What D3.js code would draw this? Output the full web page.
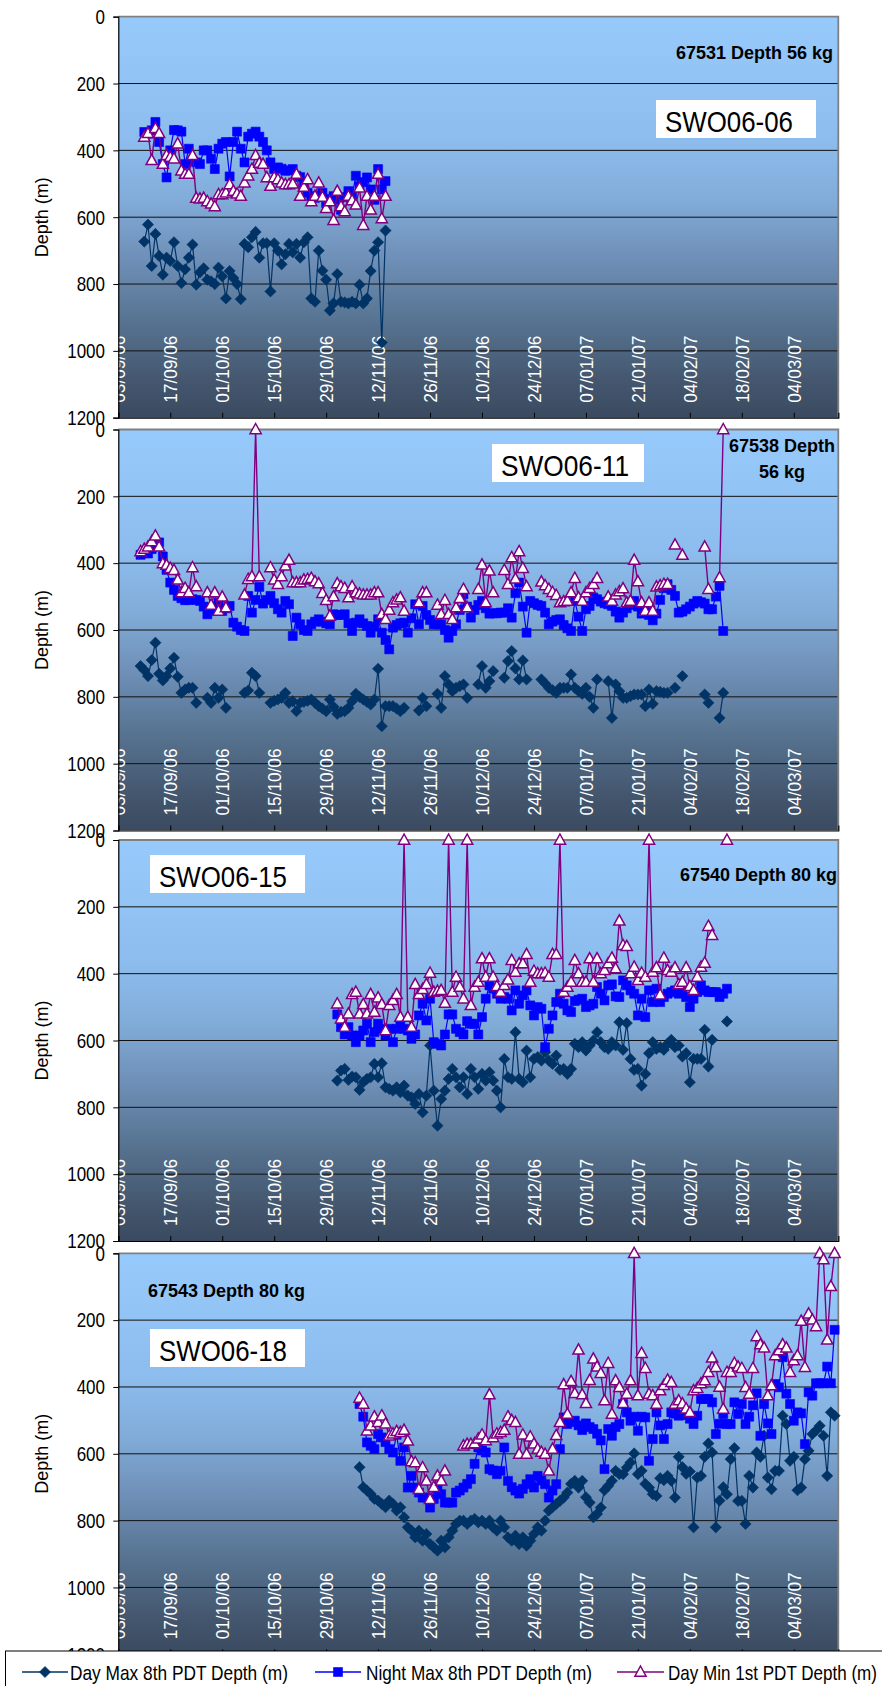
<!DOCTYPE html>
<html>
<head>
<meta charset="utf-8">
<script src="https://cdn.jsdelivr.net/npm/d3@7"></script>
<style>
  body { margin: 0; background: #ffffff; }
  svg { display: block; font-family: "Liberation Sans", Arial, sans-serif; }
</style>
</head>
<body>
<svg id="chart" width="882" height="1686"></svg>
<script>
// ---------- axis labels ----------
const tickLabels = ["03/09/06","17/09/06","01/10/06","15/10/06","29/10/06","12/11/06","26/11/06",
  "10/12/06","24/12/06","07/01/07","21/01/07","04/02/07","18/02/07","04/03/07"];
const depthTicks = [0, 200, 400, 600, 800, 1000, 1200];
const seriesNames = ["Day Max 8th PDT Depth (m)", "Night Max 8th PDT Depth (m)", "Day Min 1st PDT Depth (m)"];

// ---------- tag 67531 (SWO06-06): daily values from 10/09/06 ----------
const p1Start = "10/09/06";
const p1DayMax = [673,622,746,650,716,772,721,731,675,746, 797,756,721,682,802,765,753,787,792,800,
  751,777,843,761,782,800,845,680,690,660, 644,721,678,678,822,678,700,741,711,680,
  705,680,721,675,660,843,853,700,760,787, 879,858,770,853,855,858,853,858,802,858,
  843,761,700,675,975,640];
const p1NightMax = [345,350,340,315,375,441,481,400,339,340, 344,441,395,431,436,441,400,400,425,456,
  395,380,375,478,375,344,395,436,359,350, 344,359,375,400,436,456,451,455,461,460,
  456,476,480,507,527,537,542,535,527,558, 545,537,548,578,540,522,537,476,507,495,
  481,517,548,456,517,492];
const p1DayMin = [360,349,430,334,349,441,415,420,425,380, 461,471,471,415,543,545,543,553,560,568,
  532,532,527,502,522,530,537,497,476,456, 415,438,441,481,507,481,487,497,502,502,
  500,471,537,510,487,553,537,497,540,573, 553,609,522,568,583,537,550,563,512,624,
  537,578,537,471,604,537];

// ---------- tag 67538 (SWO06-11): daily values from 09/09/06 ----------
const p2Start = "09/09/06";
const p2DayMax = [708,720,738,690,638,731,751,738,715,683, 740,788,778,773,773,818,null,null,803,818,
  773,803,778,833,null,null,null,null,788,781, 728,738,788,null,null,818,812,808,803,788,
  818,813,843,818,815,812,808,818,828,835, 843,808,830,851,845,843,833,813,791,800,
  808,815,823,808,716,888,828,828,828,835, 843,833,null,null,null,841,803,828,null,null,
  791,833,738,763,783,773,768,763,803,null, null,763,708,773,753,723,null,null,743,693,
  663,715,748,691,748,null,null,null,748,760, 773,780,788,773,773,773,733,773,783,791,
  773,800,833,748,null,null,753,863,763,783, 803,803,798,793,793,793,828,778,821,783,
  785,788,788,null,773,null,738,null,null,null, null,null,793,818,null,null,863,788];
const p2NightMax = [375,370,371,358,350,338,380,420,458,480, 498,505,511,510,508,510,513,530,553,540,
  528,518,543,535,528,578,590,600,603,498, 548,510,471,521,510,498,520,538,548,513,
  523,618,563,583,600,603,583,575,568,575, 580,583,553,555,555,553,580,603,578,568,
  580,588,608,590,568,608,630,658,593,585, 580,578,608,565,523,583,528,555,570,583,
  583,583,600,623,603,583,540,493,530,563, 540,525,513,535,551,550,550,548,548,535,
  563,490,458,530,608,513,520,525,528,548, 583,575,570,568,585,595,603,513,560,603,
  538,528,503,508,515,520,523,528,545,563, 548,535,525,513,530,551,538,555,571,551,
  510,475,463,480,498,548,545,538,530,521, 513,517,521,538,538,500,468,603];
const p2DayMin = [365,358,351,335,318,351,401,406,415,421, 450,488,475,488,413,470,null,null,488,525,
  488,543,501,533,null,null,null,null,495,448, 440,0,440,null,null,413,450,463,440,408,
  391,458,458,458,450,448,445,455,461,490, 511,558,500,461,470,475,503,470,488,492,
  495,495,495,488,488,553,568,540,518,510, 503,543,null,null,null,518,488,488,null,null,
  525,553,511,553,568,533,505,478,533,null, null,478,405,518,423,488,null,null,421,463,
  383,447,365,415,470,null,null,null,456,467, 478,487,496,518,515,513,488,445,503,513,
  488,475,463,445,null,null,501,513,495,485, 476,518,513,391,455,518,543,518,543,471,
  467,463,463,null,345,null,376,null,null,null, null,null,351,478,null,null,443,0];

// ---------- tag 67540 (SWO06-15): daily values from 01/11/06 ----------
const p3Start = "01/11/06";
const p3DayMax = [720,690,685,718,708,710,748,725,715,710, 670,710,668,740,745,750,740,755,735,765,
  770,790,760,815,765,615,750,855,775,750, 715,685,710,740,710,760,685,710,745,700,
  720,695,720,750,800,655,710,715,575,715, 725,630,710,655,650,660,635,660,670,645,
  688,685,700,685,610,620,605,630,615,600, 575,605,620,625,605,615,545,628,548,655,
  688,685,735,700,638,605,625,620,628,610, 598,620,615,648,638,725,655,655,655,568,
  678,598,null,null,null,543];
const p3NightMax = [522,560,582,560,585,605,585,570,550,605, 575,550,565,585,565,605,565,558,565,570,
  595,582,525,490,540,475,605,610,615,582, 522,522,565,575,582,542,550,550,582,530,
  475,435,445,460,475,470,475,510,450,490, 465,450,495,525,500,505,620,565,525,485,
  460,490,510,515,482,478,475,500,495,490, 440,460,480,435,432,468,470,420,435,450,
  460,525,475,530,450,485,445,485,470,460, 455,450,460,445,470,500,475,455,435,450,
  455,455,455,470,460,445];
const p3DayMin = [490,535,560,520,462,455,520,492,520,462, 515,472,492,570,495,480,462,530,0,530,
  560,432,462,447,432,398,455,452,450,488, 0,455,410,440,475,0,495,440,425,355,
  410,355,410,438,455,435,418,360,395,370, 370,342,425,392,400,400,398,410,342,342,
  0,455,440,425,360,400,425,425,355,425, 355,400,390,370,353,385,242,315,318,400,
  380,420,398,410,0,395,382,463,353,390, 395,382,432,425,382,438,450,410,380,368,
  258,285,null,null,null,0];

// ---------- tag 67543 (SWO06-18): daily values from 07/11/06 ----------
const p4Start = "07/11/06";
const p4DayMax = [640,700,710,720,735,740,750,760,740,750, 770,760,790,820,830,850,830,860,840,870,
  880,890,860,880,850,830,810,800,800,810, 800,795,805,800,810,800,820,830,800,820,
  850,860,845,870,850,875,860,840,820,830, 800,770,760,750,741,731,716,690,681,701,
  681,730,746,790,780,761,709,696,681,651, 661,661,641,626,599,661,651,690,701,721,
  726,673,679,666,681,731,609,640,660,653, 820,671,666,609,569,596,820,740,700,721,
  616,583,741,741,810,666,701,596,609,546, 671,706,651,651,486,511,621,609,709,701,
  616,591,541,530,516,546,666,476,486];
const p4NightMax = [451,489,566,576,586,541,551,565,586,596, 543,621,581,701,666,701,716,731,731,761,
  735,706,721,746,746,746,716,710,701,690, 676,630,581,590,596,646,650,661,651,581,
  681,700,710,719,705,691,676,701,666,680, 691,731,710,691,586,491,511,505,501,515,
  529,509,520,526,540,560,646,526,546,520, 511,451,476,501,489,531,489,491,621,556,
  476,515,556,511,476,480,486,484,481,495, 511,486,436,436,436,446,541,510,481,511,
  511,446,481,451,511,489,455,419,546,451, 509,541,391,401,311,420,451,501,476,479,
  571,416,426,389,389,389,339,389,229];
const p4DayMin = [433,451,531,516,489,506,486,510,546,540, 533,536,529,561,623,626,706,641,681,736,
  700,666,681,651,null,null,null,null,576,571, 571,569,555,543,560,423,551,540,536,529,
  489,500,506,601,543,601,549,570,586,595, 601,651,586,545,506,393,481,383,419,289,
  423,449,380,316,340,359,441,329,481,381, 401,449,421,381,0,426,299,344,421,426,
  451,411,395,379,386,451,441,450,465,476, 411,404,390,381,356,313,341,400,466,356,
  356,329,340,344,401,421,344,249,273,283, 426,396,306,291,273,283,356,321,306,203,
  341,181,199,219,0,19,259,99,0];

// ---------- layout ----------
const W = 882, H = 1686;
const plotLeft = 118.3, plotRight = 838.3, plotH = 401;
const parseDate = d3.utcParse("%d/%m/%y");

const panels = [
  { top: 16.7, start: p1Start, series: [p1DayMax, p1NightMax, p1DayMin], name: "SWO06-06",
    box: [656, 100, 160], tag: ["67531 Depth 56 kg"], tagPos: [833, 59], tagAnchor: "end" },
  { top: 429.5, start: p2Start, series: [p2DayMax, p2NightMax, p2DayMin], name: "SWO06-11",
    box: [492, 444, 152], tag: ["67538 Depth", "56 kg"], tagPos: [782, 452], tagAnchor: "middle" },
  { top: 840, start: p3Start, series: [p3DayMax, p3NightMax, p3DayMin], name: "SWO06-15",
    box: [150, 855, 155], tag: ["67540 Depth 80 kg"], tagPos: [837, 881], tagAnchor: "end" },
  { top: 1253.3, start: p4Start, series: [p4DayMax, p4NightMax, p4DayMin], name: "SWO06-18",
    box: [150, 1329, 155], tag: ["67543 Depth 80 kg"], tagPos: [148, 1297], tagAnchor: "start" }
];

const x = d3.scaleUtc()
  .domain([parseDate("03/09/06"), d3.utcDay.offset(parseDate("03/09/06"), 194)])
  .range([plotLeft, plotRight]);
const tickDates = tickLabels.map(parseDate);

// marker shapes and styles for the three series
const styles = [
  { color: "#003366", width: 1.2, shape: "M0,-5.6L5.6,0L0,5.6L-5.6,0Z", fill: "#003366", stroke: "#003366", sw: 0.6 },
  { color: "#0000FF", width: 1.2, shape: "M-4.5,-4.5H4.5V4.5H-4.5Z", fill: "#0000FF", stroke: "#0000FF", sw: 0.6 },
  { color: "#800080", width: 1.4, shape: "M0,-6L5.6,4.2L-5.6,4.2Z", fill: "#FFFFFF", stroke: "#800080", sw: 1.5 }
];

const svg = d3.select("#chart");
const defs = svg.append("defs");
const grad = defs.append("linearGradient").attr("id", "bg")
  .attr("x1", 0).attr("y1", 0).attr("x2", 0).attr("y2", 1);
[[0, "#97CAFC"], [0.3, "#8DBDEE"], [0.45, "#82ADDA"], [0.6, "#6F90B8"],
 [0.75, "#587593"], [0.9, "#455870"], [1, "#3A4A60"]]
  .forEach(([o, c]) => grad.append("stop").attr("offset", o).attr("stop-color", c));

svg.append("rect").attr("width", W).attr("height", H).attr("fill", "#ffffff");

panels.forEach((p, pi) => {
  const y = d3.scaleLinear().domain([0, 1200]).range([p.top, p.top + plotH]);
  const g = svg.append("g");
  const clipId = "clip" + pi;
  defs.append("clipPath").attr("id", clipId).append("rect")
    .attr("x", plotLeft).attr("y", p.top).attr("width", plotRight - plotLeft).attr("height", plotH);

  // plot background
  g.append("rect").attr("x", plotLeft).attr("y", p.top)
    .attr("width", plotRight - plotLeft).attr("height", plotH).attr("fill", "url(#bg)");

  // horizontal gridlines
  g.append("g").selectAll("line").data(depthTicks.slice(1, -1)).join("line")
    .attr("x1", plotLeft).attr("x2", plotRight)
    .attr("y1", d => y(d)).attr("y2", d => y(d))
    .attr("stroke", "#111111").attr("stroke-width", 1);

  // plot border (top and right)
  g.append("path")
    .attr("d", `M${plotLeft},${p.top}H${plotRight}V${p.top + plotH}`)
    .attr("fill", "none").attr("stroke", "#808080").attr("stroke-width", 1.8);

  // date labels, written upward inside the plot
  const xl = g.append("g").attr("clip-path", `url(#${clipId})`);
  xl.selectAll("text").data(tickDates).join("text")
    .attr("transform", d => `translate(${x(d) + 7},${p.top + plotH - 15}) rotate(-90)`)
    .attr("x", 0).attr("y", 0)
    .attr("text-anchor", "start")
    .attr("font-size", 18).attr("fill", "#ffffff")
    .attr("textLength", 67).attr("lengthAdjust", "spacingAndGlyphs")
    .text((d, i) => tickLabels[i]);

  // bottom axis with inward ticks
  const xAxis = d3.axisBottom(x).tickValues(tickDates).tickSize(-5).tickFormat("");
  g.append("g").attr("transform", `translate(0,${p.top + plotH})`).call(xAxis)
    .call(a => a.select(".domain").attr("stroke", "#000").attr("stroke-width", 1.2))
    .call(a => a.selectAll(".tick line").attr("stroke", "#000"));

  // depth axis
  const yAxis = d3.axisLeft(y).tickValues(depthTicks).tickSize(5).tickFormat(d3.format("d"));
  const ya = g.append("g").attr("transform", `translate(${plotLeft},0)`).call(yAxis);
  ya.select(".domain").attr("stroke", "#000").attr("stroke-width", 1.2);
  ya.selectAll(".tick line").attr("stroke", "#000");
  ya.selectAll(".tick text")
    .attr("font-size", 20).attr("fill", "#000").attr("font-family", "Liberation Sans, Arial, sans-serif")
    .attr("x", -13.3 / 0.85).attr("dy", "0.34em")
    .attr("transform", "scale(0.85,1)");

  g.append("text")
    .attr("transform", `translate(48,${p.top + plotH / 2}) rotate(-90)`)
    .attr("text-anchor", "middle").attr("font-size", 18).attr("fill", "#000")
    .text("Depth (m)");

  // series: Day Max, Night Max, Day Min
  const start = parseDate(p.start);
  p.series.forEach((vals, si) => {
    const st = styles[si];
    const data = vals.map((v, i) => ({ date: d3.utcDay.offset(start, i), v }));
    const line = d3.line().defined(d => d.v != null).x(d => x(d.date)).y(d => y(d.v));
    g.append("path").datum(data).attr("d", line)
      .attr("fill", "none").attr("stroke", st.color).attr("stroke-width", st.width)
      .attr("stroke-linejoin", "round");
    g.append("g").selectAll("path").data(data.filter(d => d.v != null)).join("path")
      .attr("transform", d => `translate(${x(d.date)},${y(d.v)})`)
      .attr("d", st.shape).attr("fill", st.fill)
      .attr("stroke", st.stroke).attr("stroke-width", st.sw).attr("stroke-linejoin", "miter");
  });

  // tag name box
  g.append("rect").attr("x", p.box[0]).attr("y", p.box[1]).attr("width", p.box[2]).attr("height", 38)
    .attr("fill", "#ffffff");
  g.append("text")
    .attr("x", p.box[0] + 9).attr("y", p.box[1] + 32)
    .attr("font-size", 30).attr("fill", "#000")
    .attr("textLength", 128).attr("lengthAdjust", "spacingAndGlyphs")
    .text(p.name);

  // tag / depth / weight note
  p.tag.forEach((t, ti) => {
    g.append("text")
      .attr("x", p.tagPos[0]).attr("y", p.tagPos[1] + ti * 26)
      .attr("text-anchor", p.tagAnchor)
      .attr("font-size", 18).attr("font-weight", "bold").attr("fill", "#000")
      .text(t);
  });
});

// ---------- legend ----------
const lg = svg.append("g");
lg.append("rect").attr("x", 5.5).attr("y", 1651).attr("width", 900).attr("height", 60)
  .attr("fill", "#ffffff").attr("stroke", "#000").attr("stroke-width", 1);
const legendItems = [
  { x0: 22, x1: 68, tx: 70, tw: 218 },
  { x0: 315, x1: 361, tx: 366, tw: 226 },
  { x0: 617, x1: 664, tx: 668, tw: 209 }
];
legendItems.forEach((it, i) => {
  const st = styles[i];
  const ly = 1672;
  lg.append("line").attr("x1", it.x0).attr("x2", it.x1).attr("y1", ly).attr("y2", ly)
    .attr("stroke", st.color).attr("stroke-width", st.width + 0.3);
  lg.append("path").attr("transform", `translate(${(it.x0 + it.x1) / 2},${ly})`)
    .attr("d", st.shape).attr("fill", st.fill).attr("stroke", st.stroke).attr("stroke-width", st.sw);
  lg.append("text").attr("x", it.tx).attr("y", ly + 7.5)
    .attr("font-size", 21).attr("fill", "#000")
    .attr("textLength", it.tw).attr("lengthAdjust", "spacingAndGlyphs")
    .text(seriesNames[i]);
});
</script>
</body>
</html>
